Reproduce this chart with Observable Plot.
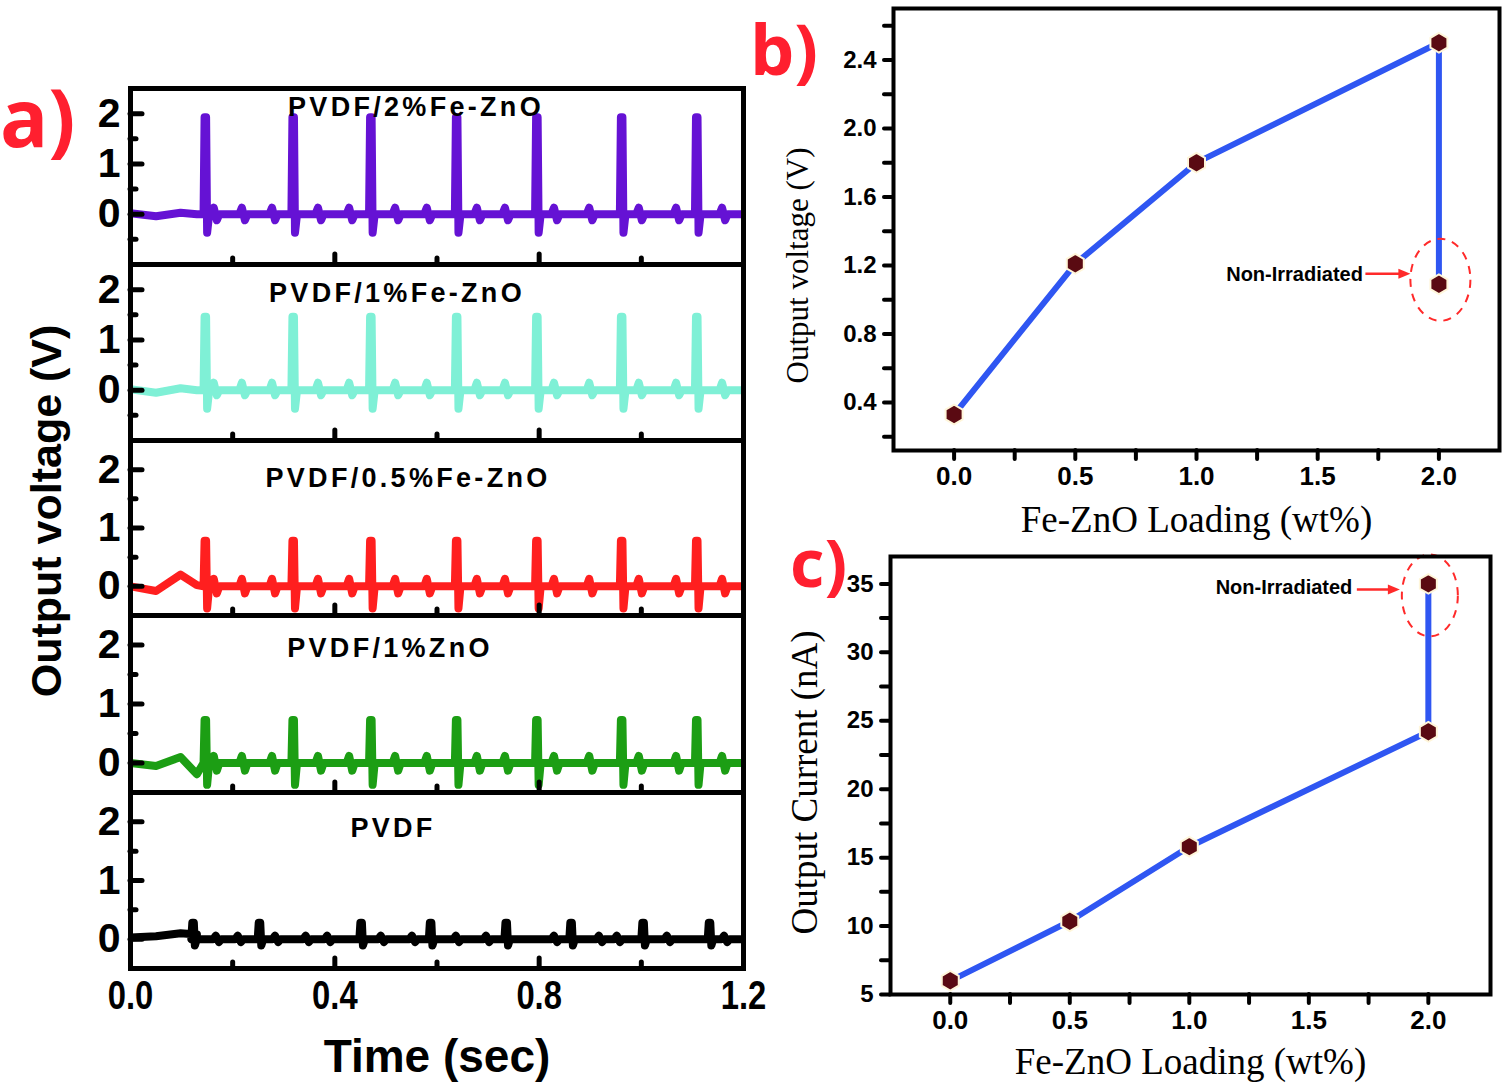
<!DOCTYPE html>
<html><head><meta charset="utf-8">
<script src="https://cdn.jsdelivr.net/npm/d3@7"></script>
<script src="https://cdn.jsdelivr.net/npm/@observablehq/plot@0.6"></script>
<style>
body{margin:0;background:#fff;}
#fig{position:relative;width:1505px;height:1086px;background:#fff;overflow:hidden;font-family:"Liberation Sans",Arial,sans-serif;}
.letter{position:absolute;color:#ff1f2f;font-family:"Open Sans",sans-serif;font-weight:700;line-height:1;white-space:nowrap;}
</style></head><body><div id="fig"></div>
<script>
// ---------------- DATA ----------------
// panel a: piezo output voltage traces
const sampleNames = ["PVDF/2%Fe-ZnO", "PVDF/1%Fe-ZnO", "PVDF/0.5%Fe-ZnO", "PVDF/1%ZnO", "PVDF"];
const sampleColors = ["#6512d4", "#7ff0d6", "#ff1f1f", "#1c9e14", "#000000"];
const spikeTimesFeZnO = [0.147, 0.319, 0.471, 0.639, 0.796, 0.962, 1.109];
const spikeTimesPVDF = [0.123, 0.253, 0.452, 0.588, 0.736, 0.863, 1.004, 1.134];
const spikePeaks = [1.93, 1.46, 0.78, 0.73, 0.28];
const spikeDips = [-0.37, -0.37, -0.38, -0.37, -0.11];
const bumpTimesFeZnO = [0.166, 0.221, 0.280, 0.370, 0.431, 0.521, 0.583, 0.681, 0.736, 0.832, 0.901, 0.998, 1.071, 1.161];
const bumpTimesPVDF = [0.170, 0.213, 0.286, 0.346, 0.388, 0.493, 0.554, 0.640, 0.699, 0.832, 0.920, 0.955, 1.053, 1.165];
const bumpHighs = [0.13, 0.15, 0.13, 0.12, 0.06];
const bumpLows = [-0.12, -0.10, -0.12, -0.13, -0.05];
const startTimes = [0, 0.05, 0.098, 0.13];
const startValues = [
  [0.02, -0.04, 0.03, 0.0],
  [0.02, -0.05, 0.04, 0.0],
  [0.0, -0.08, 0.20, 0.02],
  [0.0, -0.05, 0.10, -0.19],
  [0.03, 0.05, 0.10, 0.08]
];
const endTime = 1.2;
const voltDomainsA = [[-1, 2.5], [-1, 2.5], [-0.5, 2.5], [-0.5, 2.5], [-0.5, 2.5]];
const voltTicksA = [0, 1, 2];
const voltMinorA = [-0.5, 0.5, 1.5];
const timeTicks = [0, 0.4, 0.8, 1.2];
const timeInnerMajor = [0.4, 0.8];
const timeInnerMinor = [0.2, 0.6, 1.0];

// panel b & c
const loadingWt = [0, 0.5, 1.0, 2.0];
const voltageIrr = [0.33, 1.21, 1.80, 2.50];
const nonIrrLoading = 2.0;
const voltageNonIrr = 1.09;
const currentIrr = [6.0, 10.35, 15.8, 24.2];
const currentNonIrr = 35.0;
const loadTicks = [0, 0.5, 1.0, 1.5, 2.0];
const loadMinor = [0.25, 0.75, 1.25, 1.75];
const voltTicksB = [0.4, 0.8, 1.2, 1.6, 2.0, 2.4];
const voltMinorB = [0.2, 0.6, 1.0, 1.4, 1.8, 2.2, 2.6];
const currTicksC = [5, 10, 15, 20, 25, 30, 35];
const currMinorC = [7.5, 12.5, 17.5, 22.5, 27.5, 32.5];

// ---------------- BUILD ----------------
const fig = document.getElementById("fig");
function place(el, left, top) {
  el.style.position = "absolute"; el.style.left = left + "px"; el.style.top = top + "px";
  fig.appendChild(el);
}
const baseStyle = {background: "transparent", overflow: "visible", fontFamily: "'Liberation Sans', Arial, sans-serif", color: "black"};

function buildTrace(i) {
  const pts = startTimes.map((t, k) => ({t, v: startValues[i][k]}));
  const spikes = i === 4 ? spikeTimesPVDF : spikeTimesFeZnO;
  const bumps = i === 4 ? bumpTimesPVDF : bumpTimesFeZnO;
  const events = [...spikes.map(t => ({t, s: true})), ...bumps.map(t => ({t, s: false}))].sort((a, b) => a.t - b.t);
  for (const e of events) {
    if (e.s) {
      pts.push({t: e.t - 0.004, v: 0}, {t: e.t - 0.002, v: spikePeaks[i]}, {t: e.t + 0.001, v: spikePeaks[i]},
               {t: e.t + 0.003, v: spikeDips[i]}, {t: e.t + 0.007, v: 0});
    } else {
      pts.push({t: e.t - 0.008, v: 0}, {t: e.t - 0.003, v: bumpHighs[i]}, {t: e.t + 0.003, v: bumpLows[i]}, {t: e.t + 0.008, v: 0});
    }
  }
  pts.push({t: endTime, v: 0});
  return pts;
}

const boundaries = [88, 264, 440, 615, 792, 968];
const labelOffsets = [[-21, 19], [-40, 29], [-29, 38], [-47, 33], [-44, 36]];
const pxPerSec = (743 - 130) / 1.2;

sampleNames.forEach((name, i) => {
  const b0 = boundaries[i], b1 = boundaries[i + 1], h = b1 - b0;
  const last = i === 4, pad = 4;
  const [y0, y1] = voltDomainsA[i];
  const pxPerV = h / (y1 - y0);
  const inside = d => d > y0 + 1e-6 && d < y1 - 1e-6;
  const marks = [
    Plot.line(buildTrace(i), {x: "t", y: "v", stroke: sampleColors[i], strokeWidth: 8, strokeLinejoin: "round", strokeLinecap: "round", clip: true}),
    Plot.ruleY(voltTicksA.filter(inside), {y: d => d, x1: 0, x2: 12 / pxPerSec, stroke: "black", strokeWidth: 5, strokeLinecap: "round"}),
    Plot.ruleY(voltMinorA.filter(inside), {y: d => d, x1: 0, x2: 6 / pxPerSec, stroke: "black", strokeWidth: 5, strokeLinecap: "round"}),
    Plot.ruleX(timeInnerMajor, {x: d => d, y1: y0, y2: y0 + 10 / pxPerV, stroke: "black", strokeWidth: 5, strokeLinecap: "round"}),
    Plot.ruleX(timeInnerMinor, {x: d => d, y1: y0, y2: y0 + 6 / pxPerV, stroke: "black", strokeWidth: 5, strokeLinecap: "round"}),
    Plot.frame({stroke: "black", strokeWidth: 5}),
    Plot.axisY(voltTicksA, {tickSize: 0, tickPadding: 10, fontSize: 41, fontWeight: "bold", tickFormat: d3.format("d"), label: null}),
    Plot.text([name], {text: d => d, frameAnchor: "top", dx: labelOffsets[i][0], dy: labelOffsets[i][1], lineAnchor: "middle", textAnchor: "middle", fontSize: 27, fontWeight: "bold"})
  ];
  if (last) {
    marks.push(Plot.axisX(timeTicks, {tickSize: 0, tickPadding: 12, fontSize: 40, fontWeight: "bold", tickFormat: d3.format(".1f"), label: null}));
    marks.push(Plot.text(["Time (sec)"], {text: d => d, frameAnchor: "bottom", dy: 89, lineAnchor: "middle", textAnchor: "middle", fontSize: 46, fontWeight: "bold"}));
  }
  if (i === 2) {
    marks.push(Plot.text(["Output voltage (V)"], {text: d => d, frameAnchor: "left", dx: -83, dy: -17, rotate: -90, lineAnchor: "middle", textAnchor: "middle", fontSize: 43, fontWeight: "bold"}));
  }
  const svg = Plot.plot({
    width: 760, height: h + pad + (last ? 110 : pad),
    marginLeft: 130, marginRight: 17, marginTop: pad, marginBottom: last ? 110 : pad,
    x: {domain: [0, 1.2], axis: last ? undefined : null},
    y: {domain: voltDomainsA[i]},
    style: baseStyle,
    marks
  });
  svg.querySelectorAll('g[aria-label="text"] text').forEach(t => {
    if (t.textContent.startsWith("PVDF")) t.setAttribute("letter-spacing", "3.3");
  });
  // condensed look of the time tick labels
  svg.querySelectorAll('g[aria-label="x-axis tick label"] text').forEach(t => {
    const tr = t.getAttribute("transform") || "";
    t.setAttribute("transform", tr + " scale(0.82,1)");
  });
  place(svg, 0, b0 - pad);
});

// annotation mark (ellipse + arrow) positioned from the scales
function nonIrrAnnotation(xv, yv, o) {
  return (index, scales) => {
    const cx = scales.x(xv), cy = scales.y(yv);
    const g = d3.create("svg:g");
    g.append("ellipse").attr("cx", cx + o.ex).attr("cy", cy + o.ey).attr("rx", o.rx).attr("ry", o.ry)
      .attr("fill", "none").attr("stroke", "#ff2a2a").attr("stroke-width", 2).attr("stroke-dasharray", "8,7");
    const ay = cy + o.ay, ax1 = cx + o.a1, ax2 = cx + o.a2;
    g.append("line").attr("x1", ax1).attr("x2", ax2 - 8).attr("y1", ay).attr("y2", ay).attr("stroke", "#ff2a2a").attr("stroke-width", 2.5);
    g.append("path").attr("d", `M${ax2},${ay}L${ax2 - 12},${ay - 5}L${ax2 - 12},${ay + 5}Z`).attr("fill", "#ff2a2a");
    return g.node();
  };
}

function loadingPanel(cfg) {
  const path = loadingWt.map((x, k) => ({x, y: cfg.values[k]})).concat([{x: nonIrrLoading, y: cfg.nonIrr}]);
  const nonPt = [{x: nonIrrLoading, y: cfg.nonIrr}];
  const tickOpts = {tickSize: 9, strokeWidth: 4, strokeLinecap: "round", label: null};
  return Plot.plot({
    width: 725, height: cfg.height,
    marginLeft: cfg.ml, marginRight: cfg.mr, marginTop: cfg.mt, marginBottom: cfg.mb,
    x: {domain: cfg.xDomain}, y: {domain: cfg.yDomain},
    style: baseStyle,
    marks: [
      Plot.axisY(cfg.yTicks, {...tickOpts, tickPadding: 8, fontSize: 24, fontWeight: "bold", tickFormat: cfg.yFormat}),
      Plot.axisY(cfg.yMinor, {...tickOpts, fill: "none"}),
      Plot.axisX(loadTicks, {...tickOpts, tickPadding: 7, fontSize: 26, fontWeight: "bold", tickFormat: d3.format(".1f")}),
      Plot.axisX(loadMinor, {...tickOpts, fill: "none"}),
      Plot.line(path, {x: "x", y: "y", stroke: "#2f56f2", strokeWidth: 6}),
      Plot.dot(path, {x: "x", y: "y", symbol: "hexagon", r: 8.5, fill: "#5a0a12", stroke: "#fff6da", strokeWidth: 2}),
      nonIrrAnnotation(nonIrrLoading, cfg.nonIrr, cfg.ann),
      Plot.text(nonPt, {x: "x", y: "y", text: () => "Non-Irradiated", textAnchor: "end", lineAnchor: "middle", dx: cfg.ann.tx, dy: cfg.ann.ty, fontSize: 20, fontWeight: "bold"}),
      Plot.frame({stroke: "black", strokeWidth: 4}),
      Plot.text(["Fe-ZnO Loading (wt%)"], {text: d => d, frameAnchor: "bottom", dy: cfg.xtDy, lineAnchor: "middle", textAnchor: "middle", fontFamily: "'Liberation Serif', 'Times New Roman', serif", fontSize: 37}),
      Plot.text([cfg.yTitle], {text: d => d, frameAnchor: "left", dx: cfg.ytDx, dy: cfg.ytDy, rotate: -90, lineAnchor: "middle", textAnchor: "middle", fontFamily: "'Liberation Serif', 'Times New Roman', serif", fontSize: cfg.ytSize})
    ]
  });
}

const svgB = loadingPanel({
  values: voltageIrr, nonIrr: voltageNonIrr, height: 545, ml: 113, mr: 6, mt: 8, mb: 95,
  xDomain: [-0.25, 2.25], yDomain: [0.12, 2.7], yTicks: voltTicksB, yMinor: voltMinorB, yFormat: d3.format(".1f"),
  ann: {ex: 2, ey: -4, rx: 30, ry: 41, a1: -73, a2: -28, ay: -10, tx: -76, ty: -10},
  xtDy: 70, yTitle: "Output voltage (V)", ytDx: -95, ytDy: 36, ytSize: 31
});
place(svgB, 780, 0);

const svgC = loadingPanel({
  values: currentIrr, nonIrr: currentNonIrr, height: 546, ml: 110, mr: 15, mt: 16, mb: 92,
  xDomain: [-0.25, 2.26], yDomain: [5, 37], yTicks: currTicksC, yMinor: currMinorC, yFormat: d3.format("d"),
  ann: {ex: 2, ey: 12, rx: 28, ry: 41, a1: -71, a2: -28, ay: 6, tx: -76, ty: 4},
  xtDy: 68, yTitle: "Output Current (nA)", ytDx: -85, ytDy: 7, ytSize: 37
});
place(svgC, 780, 540);

// panel letters
[["a)", 0, 76, 80], ["b)", 750, 13, 70], ["c)", 790, 528, 67]].forEach(([txt, l, t, s]) => {
  const d = document.createElement("div");
  d.className = "letter"; d.textContent = txt; d.style.fontSize = s + "px";
  d.style.left = l + "px"; d.style.top = t + "px";
  fig.appendChild(d);
});
</script>
</body></html>
